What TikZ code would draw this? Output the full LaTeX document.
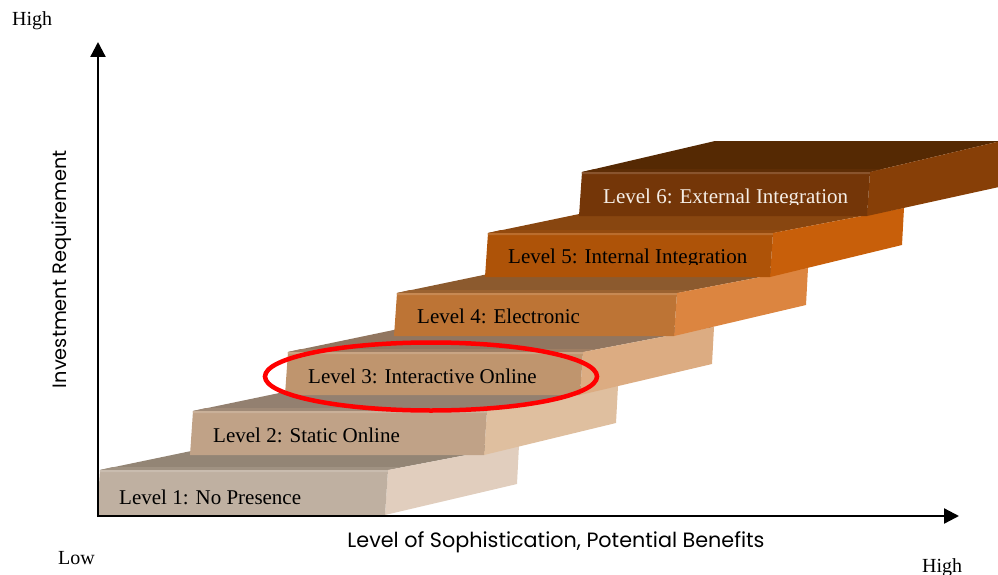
\documentclass[tikz,border=0pt]{standalone}
\usepackage{fontspec}
\setmainfont{Liberation Serif}
\newfontfamily\gothic{Poppins}
\usetikzlibrary{arrows.meta}
\definecolor{s1f}{HTML}{BFB0A1}\definecolor{s1t}{HTML}{938575}\definecolor{s1r}{HTML}{E1CEBE}
\definecolor{s2f}{HTML}{C0A287}\definecolor{s2t}{HTML}{938070}\definecolor{s2r}{HTML}{DFBF9F}
\definecolor{s3f}{HTML}{BF956E}\definecolor{s3t}{HTML}{917660}\definecolor{s3r}{HTML}{DCAC82}
\definecolor{s4f}{HTML}{BD7435}\definecolor{s4t}{HTML}{8C5A2E}\definecolor{s4r}{HTML}{DC8540}
\definecolor{s5f}{HTML}{AE5308}\definecolor{s5t}{HTML}{884610}\definecolor{s5r}{HTML}{C85F0A}
\definecolor{s6f}{HTML}{743608}\definecolor{s6t}{HTML}{552903}\definecolor{s6r}{HTML}{873F07}
\definecolor{lighttext}{HTML}{F5EEE6}
% #1 x0, #2 x1, #3 ytop, #4 ybottom, #5 top rise, #6 colour id, #7 left depth dx, #8 bottom rise
\newcommand\stairslab[8]{%
  \fill[s#6t] (#1,#3) -- (#1+#7,#3-#5) -- (#2+131,#3-#5) -- (#2,#3) -- cycle;
  \fill[s#6t!70!s#6f] (#1,#3) -- (#1+13,#3-3) -- (#2+13,#3-3) -- (#2,#3) -- cycle;
  \fill[s#6r] (#2,#3) -- (#2+131,#3-#5) -- (#2+129,#4-#8) -- (#2-3,#4) -- cycle;
  \fill[s#6f] (#1,#3) -- (#2,#3) -- (#2-3,#4) -- (#1-3,#4) -- cycle;
  \fill[s#6f!85!white] (#1,#3) -- (#2,#3) -- (#2-0.2,#3+2) -- (#1-0.2,#3+2) -- cycle;
}
\begin{document}
\begin{tikzpicture}[x=1pt,y=-1pt,
  lvl/.style={anchor=base west,inner sep=0pt,font=\fontsize{21}{25}\selectfont},
  endlabel/.style={anchor=base west,inner sep=0pt,font=\fontsize{20}{24}\selectfont},
  axisline/.style={line width=2.3pt,-{Triangle[width=15pt,length=15pt]}},
  ring/.style={draw=red,line width=4.5pt}]
\useasboundingbox (0,0) rectangle (998,575);
\clip (0,0) rectangle (998,575);

\stairslab{100}{388}{470}{515}{25}{1}{120}{31}
\stairslab{193}{487}{411}{455}{25}{2}{120}{32}
\stairslab{288}{583}{352}{395}{25}{3}{120}{31}
\stairslab{397}{677}{293}{336}{25}{4}{120}{31}
\stairslab{488}{773}{233}{277}{25}{5}{120}{32}
\stairslab{582}{870}{172}{216}{31}{6}{133}{29}

\node[lvl] (l1) at (119,504) {Level 1: No Presence};
\node[lvl] (l2) at (213,442) {Level 2: Static Online};
\node[lvl] (l3) at (308,383) {Level 3: Interactive Online};
\node[lvl] (l4) at (417,323) {Level 4: Electronic};
\begin{scope}
  \clip (500,230) rectangle (800,264.5);
  \node[lvl] (l5) at (508,263) {Level 5: Internal Integration};
\end{scope}
\begin{scope}
  \clip (595,170) rectangle (880,204.5);
  \node[lvl,text=lighttext] (l6) at (603,203) {Level 6: External Integration};
\end{scope}

\coordinate (O) at (98,516);
\coordinate (ytip) at (98,42);
\coordinate (xtip) at (959,516);
\draw[axisline] ([yshift=-1.15pt]O) -- (ytip);
\draw[axisline] ([xshift=-1.15pt]O) -- (xtip);

\node[endlabel] (hy) at (12,26) {High};
\node[endlabel] (lo) at (58,564) {Low};
\node[endlabel] (hx) at (922,572) {High};

\node[rotate=90,inner sep=0pt] (ylab) at (62,269)
  {\resizebox{238pt}{!}{\gothic Investment Requirement}};
\node[inner sep=0pt,anchor=base] (xlab) at (556,547)
  {\resizebox{417pt}{!}{\gothic Level of Sophistication, Potential Benefits}};

\draw[ring] (431,376.5) ellipse [x radius=166pt, y radius=34pt];
\end{tikzpicture}
\end{document}
